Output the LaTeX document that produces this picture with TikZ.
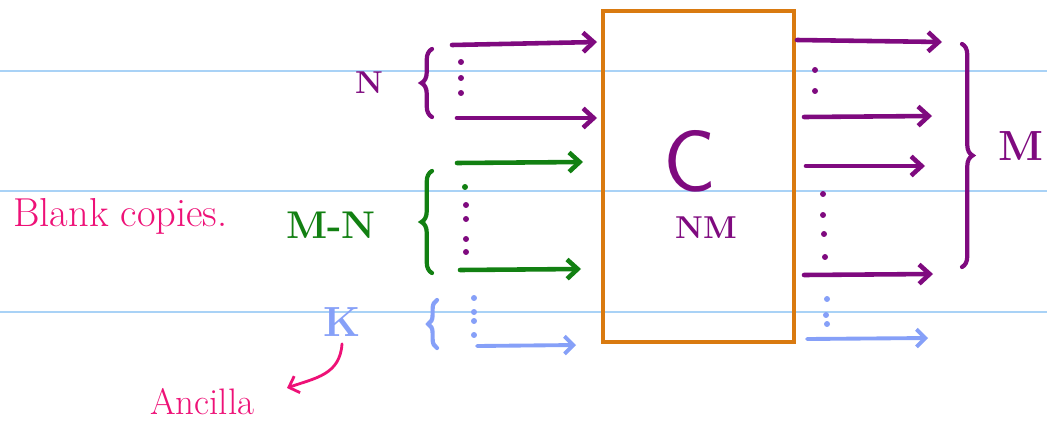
\documentclass[tikz,border=0pt]{standalone}
\usetikzlibrary{arrows.meta,decorations.pathreplacing}
\definecolor{pur}{HTML}{7F0A7F}
\definecolor{grn}{HTML}{128012}
\definecolor{org}{HTML}{D97A10}
\definecolor{blu}{HTML}{86A0F8}
\definecolor{pnk}{HTML}{EE1177}
\definecolor{rule}{HTML}{A9D2F6}
\tikzset{
  ruleline/.style={rule, line width=1.2pt},
  wire/.style={line width=2.6pt, line cap=round, -{Straight Barb[length=6pt,width=11pt,line width=2.6pt]}},
  thinwire/.style={line width=2.2pt, line cap=round, -{Straight Barb[length=5pt,width=10pt,line width=2.2pt]}},
  lbrace/.style={line width=2.4pt, line cap=round, decorate, decoration={brace, amplitude=6pt}},
  dotp/.style={circle, fill, inner sep=0pt, minimum size=3.4pt},
  hand/.style={inner sep=0pt}
}
\begin{document}
\begin{tikzpicture}[x=0.02cm,y=-0.02cm]
\useasboundingbox (0,0) rectangle (1047,423);
\fill[white] (0,0) rectangle (1047,423);
% ruled lines
\draw[ruleline] (0,71) -- (1047,71);
\draw[ruleline] (0,191) -- (1047,191);
\draw[ruleline] (0,312) -- (1047,312);

% box
\node[draw=org, line width=2.4pt, minimum width=191*0.02cm, minimum height=331*0.02cm, inner sep=0pt] (box) at (698.5,176.5) {};
\node[pur, hand, font=\fontsize{50}{50}\selectfont\sffamily] (C) at (690,161) {C};
\node[pur, hand, font=\fontsize{18}{18}\selectfont\bfseries] (NM) at (706,228) {NM};

% ---- left inputs ----
% N group (purple)
\coordinate (n1s) at (452,45); \coordinate (n1e) at (597,42);
\coordinate (n2s) at (457,118); \coordinate (n2e) at (597,118);
\draw[pur, wire] (n1s) -- (n1e);
\draw[pur, wire] (n2s) -- (n2e);
\node[pur, dotp] (d1) at (461,62) {};
\node[pur, dotp] (d2) at (461,78) {};
\node[pur, dotp] (d3) at (461,93) {};
\coordinate (bN1) at (432,117); \coordinate (bN2) at (432,49);
\draw[pur, lbrace] (bN1) -- (bN2);
\node[pur, hand, font=\fontsize{18}{18}\selectfont\bfseries] (N) at (369,83) {N};

% M-N group (green)
\coordinate (g1s) at (457,163); \coordinate (g1e) at (583,162);
\coordinate (g2s) at (460,270); \coordinate (g2e) at (581,269);
\draw[grn, wire] (g1s) -- (g1e);
\draw[grn, wire] (g2s) -- (g2e);
\node[grn, dotp] (d4) at (465,187) {};
\node[pur, dotp] (d5) at (466,205) {};
\node[pur, dotp] (d6) at (466,219) {};
\node[pur, dotp] (d7) at (466,239) {};
\node[pur, dotp] (d8) at (466,252) {};
\coordinate (bG1) at (432,273); \coordinate (bG2) at (432,171);
\draw[grn, lbrace] (bG1) -- (bG2);
\node[grn, hand, font=\fontsize{22}{22}\selectfont\bfseries] (MN) at (331,225) {M-N};

% K group (blue)
\coordinate (k1s) at (477,346); \coordinate (k1e) at (576,345);
\draw[blu, thinwire] (k1s) -- (k1e);
\node[blu, dotp] (d9) at (474,298) {};
\node[blu, dotp] (d10) at (474,312) {};
\node[blu, dotp] (d11) at (474,321) {};
\node[blu, dotp] (d12) at (474,335) {};
\coordinate (bK1) at (437,348); \coordinate (bK2) at (437,300);
\draw[blu, lbrace, decoration={brace, amplitude=5pt}] (bK1) -- (bK2);
\node[blu, hand, font=\fontsize{24}{24}\selectfont\bfseries] (K) at (342,322) {K};

% labels
\node[pnk, hand, anchor=west, font=\fontsize{23}{23}\selectfont] (blank) at (13,216) {Blank copies.};
\node[pnk, hand, anchor=west, font=\fontsize{21}{21}\selectfont] (anc) at (150,402) {Ancilla};
\coordinate (aend) at (287,388);
\draw[pnk, line width=1.6pt, line cap=round, -{Straight Barb[length=5pt,width=10pt,line width=1.6pt]}]
  ([yshift=-4pt]K.south) .. controls (340,375) and (315,378) .. (aend);

% ---- right outputs ----
\coordinate (o1s) at (797,40); \coordinate (o1e) at (942,42);
\coordinate (o2s) at (804,117); \coordinate (o2e) at (932,116);
\coordinate (o3s) at (806,166); \coordinate (o3e) at (925,166);
\coordinate (o4s) at (804,275); \coordinate (o4e) at (933,274);
\draw[pur, wire] (o1s) -- (o1e);
\draw[pur, wire] (o2s) -- (o2e);
\draw[pur, wire] (o3s) -- (o3e);
\draw[pur, wire] (o4s) -- (o4e);
\node[pur, dotp] (e1) at (815,70) {};
\node[pur, dotp] (e2) at (815,91) {};
\node[pur, dotp] (e3) at (823,194) {};
\node[pur, dotp] (e4) at (823,215) {};
\node[pur, dotp] (e5) at (824,234) {};
\node[pur, dotp] (e6) at (825,257) {};
\node[blu, dotp] (e7) at (827,299) {};
\node[blu, dotp] (e8) at (826,315) {};
\node[blu, dotp] (e9) at (827,324) {};
\coordinate (k2s) at (807,339); \coordinate (k2e) at (928,338);
\draw[blu, thinwire] (k2s) -- (k2e);
\coordinate (bM1) at (962,44); \coordinate (bM2) at (962,267);
\draw[pur, lbrace] (bM1) -- (bM2);
\node[pur, hand, anchor=east, font=\fontsize{24}{24}\selectfont\bfseries] (M) at (1044,146) {M};
\end{tikzpicture}
\end{document}
